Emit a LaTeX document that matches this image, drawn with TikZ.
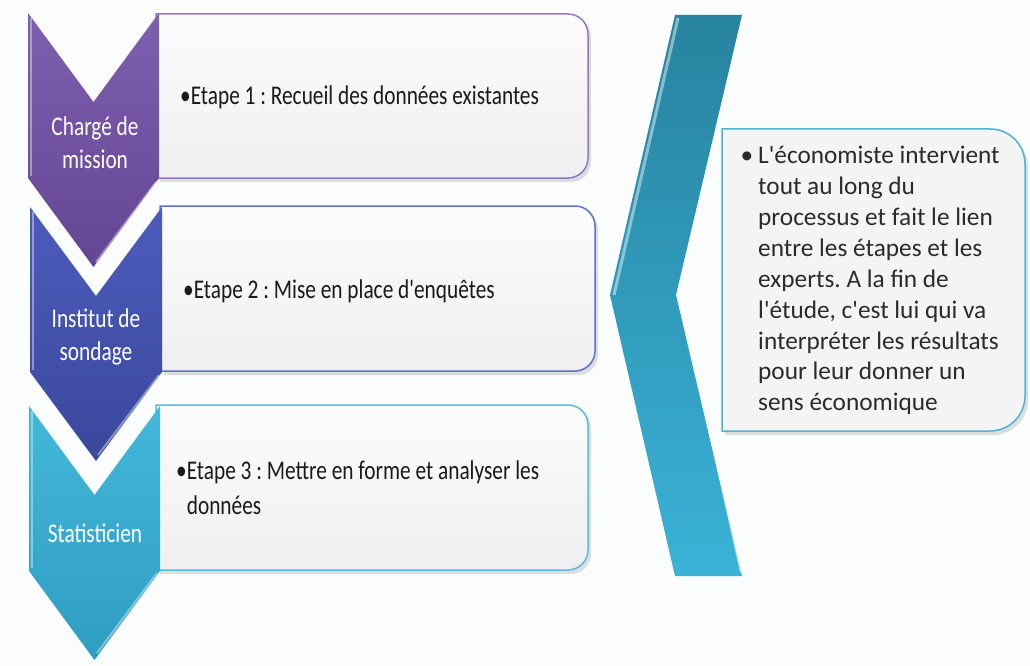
\documentclass[tikz,border=0pt]{standalone}
\usepackage{fontspec}
\newfontfamily\cfont[FakeStretch=0.79]{Carlito}
\newfontfamily\rfont{Carlito}
\frenchspacing
\definecolor{bgc}{HTML}{FBFCFC}
\definecolor{purA}{HTML}{7F60AF}
\definecolor{purB}{HTML}{634593}
\definecolor{bluA}{HTML}{4D5CBC}
\definecolor{bluB}{HTML}{39479C}
\definecolor{teaA}{HTML}{43B8DA}
\definecolor{teaB}{HTML}{2F9DC2}
\definecolor{bigA}{HTML}{27839F}
\definecolor{bigB}{HTML}{3AB2D7}
\definecolor{purL}{HTML}{9278C4}
\definecolor{bluL}{HTML}{6070CC}
\definecolor{teaL}{HTML}{55BDE0}
\definecolor{rbL}{HTML}{4AB4D4}
\definecolor{boxA}{HTML}{FCFCFD}
\definecolor{boxB}{HTML}{EFEFF1}
\definecolor{rboxc}{HTML}{F4F4F4}
\definecolor{txt}{HTML}{1A1A1A}
\definecolor{rtxt}{HTML}{2B2B2B}
% down chevron: style, xl, xr, y0
\newcommand\vchev[4]{%
  \path[#1] (#2,#4) -- ({(#2+#3)/2},#4+89) -- (#3,#4) -- (#3,#4+165)
    -- ({(#2+#3)/2},#4+254) -- (#2,#4+165) -- cycle;}
% box with rounded right corners: style, x1, y1, x2, y2, r
\newcommand\rrbox[6]{%
  \path[#1] (#2,#3) -- (#4-#6,#3) .. controls (#4-0.4477*#6,#3) and (#4,#3+0.4477*#6) .. (#4,#3+#6)
    -- (#4,#5-#6) .. controls (#4,#5-0.4477*#6) and (#4-0.4477*#6,#5) .. (#4-#6,#5)
    -- (#2,#5) -- cycle;}
\begin{document}
\begin{tikzpicture}[x=1pt,y=-1pt,
  boxtext/.style={font=\cfont\fontsize{27}{35}\selectfont, text=txt, inner sep=0pt, anchor=west, align=left},
  labtext/.style={font=\cfont\fontsize{27}{33}\selectfont, text=white, inner sep=0pt, align=center},
  shad/.style={fill=black, opacity=0.12},
  hl/.style={draw=white, opacity=0.4, line width=2pt}]
\useasboundingbox (0,0) rectangle (1030,666);
\fill[bgc] (0,0) rectangle (1030,666);

% shadows of boxes
\rrbox{shad}{160}{17}{591}{182}{20}
\rrbox{shad}{164}{209}{598}{375}{20}
\rrbox{shad}{160}{408}{591}{574}{20}
\rrbox{shad}{725}{132}{1028}{435}{35}

% step boxes
\rrbox{top color=boxA,bottom color=boxB,draw=purL,line width=1.5pt}{156}{14}{588}{178}{20}
\rrbox{top color=boxA,bottom color=boxB,draw=bluL,line width=1.5pt}{160}{206}{595}{371}{20}
\rrbox{top color=boxA,bottom color=boxB,draw=teaL,line width=1.5pt}{156}{405}{588}{570}{20}

% chevrons
\vchev{top color=purA,bottom color=purB}{28}{159}{13}
\vchev{top color=bluA,bottom color=bluB}{30}{162}{207}
\vchev{top color=teaA,bottom color=teaB}{29}{160}{406}
\draw[hl] (31,18) -- (31,176);
\draw[hl] (156,182) -- (96,262);
\draw[hl] (33,212) -- (33,370);
\draw[hl] (159,375) -- (98,455);
\draw[hl] (32,411) -- (32,568);
\draw[hl] (157,573) -- (97,653);

% big chevron
\path[top color=bigA,bottom color=bigB] (675,15) -- (742,15) -- (676,295) -- (742,576)
  -- (675,576) -- (610,295) -- cycle;
\draw[draw=white,opacity=0.45,line width=3pt] (678,18) -- (614,295);
\draw[draw=white,opacity=0.5,line width=2.5pt] (680,296) -- (741,572);

% right text box
\rrbox{fill=rboxc,draw=rbL,line width=1.5pt}{722}{129}{1025}{431}{35}

% labels
\node[labtext] (l1) at (95,143) {Chargé de\\mission};
\node[labtext] (l2) at (96,337) {Institut de\\sondage};
\node[labtext] (l3) at (95,533) {Statisticien};

% step texts
\node[boxtext] (t1) at (180,97) {•Etape 1 : Recueil des données existantes};
\node[boxtext] (t2) at (183,291) {•Etape 2 : Mise en place d'enquêtes};
\node[boxtext] (t3) at (176,488) {•Etape 3 : Mettre en forme et analyser les\\\hphantom{•}données};

% right text
\node[font=\rfont\fontsize{25.3}{30.9}\selectfont, text=rtxt, inner sep=0pt] (rb) at (747,158) {•};
\node[font=\rfont\fontsize{25.3}{30.9}\selectfont, text=rtxt, inner sep=0pt, anchor=north west, align=left] (rt) at (758,146)
 {L'économiste intervient\\tout au long du\\processus et fait le lien\\entre les étapes et les\\experts. A la fin de\\l'étude, c'est lui qui va\\interpréter les résultats\\pour leur donner un\\sens économique};
\end{tikzpicture}
\end{document}
